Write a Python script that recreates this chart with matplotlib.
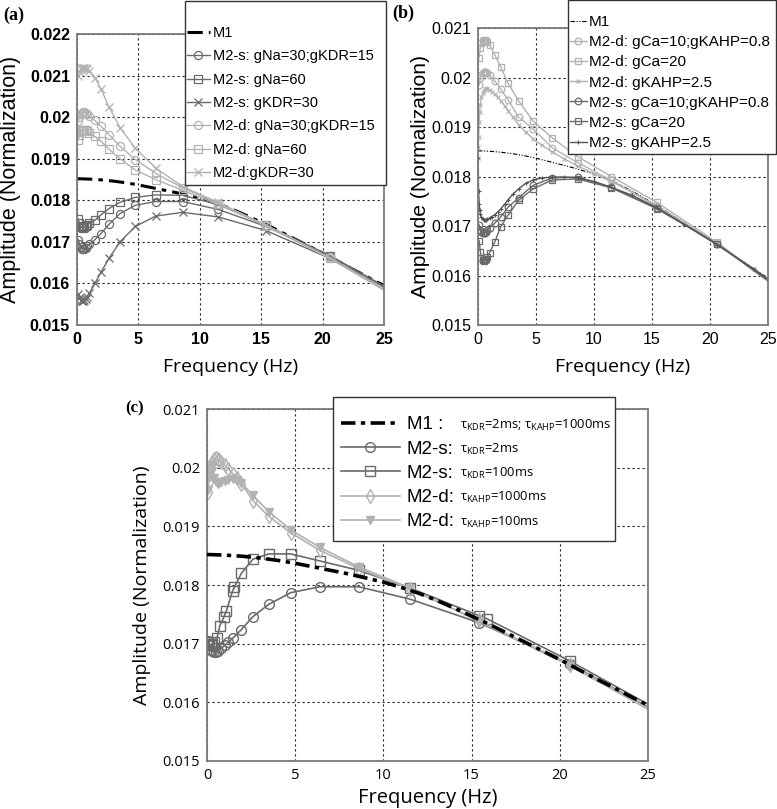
import matplotlib
matplotlib.use("Agg")
import matplotlib.pyplot as plt
from matplotlib.patches import Rectangle

W, H = 777, 809

# ---------------- shared reference model M1 ----------------
m1_freq = list(range(26))
m1_amp = [0.01852, 0.01851, 0.01849, 0.01846, 0.01842, 0.01837, 0.01831, 0.01825,
          0.01819, 0.01812, 0.01805, 0.01796, 0.01786, 0.01774, 0.01761, 0.01747,
          0.01733, 0.01718, 0.01703, 0.01688, 0.01673, 0.01657, 0.01641, 0.01626,
          0.01610, 0.01595]

# ---------------- panel (a) ----------------
a_freq = [0.1, 0.2, 0.3, 0.4, 0.5, 0.6, 0.7, 0.8, 1.0, 1.45, 1.95, 2.6, 3.5, 4.75,
          6.4, 8.6, 11.5, 15.4, 20.6, 27.5]
a_s_na30_kdr15 = [0.01705, 0.01695, 0.01688, 0.01684, 0.01683, 0.01684, 0.01686, 0.01689,
                  0.01694, 0.01705, 0.01720, 0.01742, 0.01768, 0.01788, 0.01797, 0.01797,
                  0.01778, 0.01737, 0.01665, 0.01550]
a_s_na60 = [0.01755, 0.01745, 0.01738, 0.01735, 0.01734, 0.01735, 0.01737, 0.01740,
            0.01745, 0.01752, 0.01765, 0.01780, 0.01795, 0.01807, 0.01813, 0.01812,
            0.01790, 0.01740, 0.01667, 0.01552]
a_s_kdr30 = [0.01575, 0.01565, 0.01560, 0.01558, 0.01558, 0.01560, 0.01563, 0.01567,
             0.01576, 0.01600, 0.01627, 0.01660, 0.01700, 0.01737, 0.01762, 0.01771,
             0.01760, 0.01727, 0.01660, 0.01545]
a_d_na30_kdr15 = [0.01990, 0.02000, 0.02007, 0.02011, 0.02012, 0.02012, 0.02010, 0.02008,
                  0.02003, 0.01992, 0.01978, 0.01958, 0.01930, 0.01898, 0.01865, 0.01830,
                  0.01792, 0.01740, 0.01662, 0.01545]
a_d_na60 = [0.01945, 0.01958, 0.01966, 0.01969, 0.01970, 0.01969, 0.01968, 0.01966,
            0.01962, 0.01954, 0.01942, 0.01923, 0.01900, 0.01873, 0.01850, 0.01824,
            0.01790, 0.01738, 0.01661, 0.01543]
a_d_kdr30 = [0.02100, 0.02110, 0.02115, 0.02118, 0.02119, 0.02119, 0.02118, 0.02116,
             0.02112, 0.02095, 0.02068, 0.02025, 0.01975, 0.01925, 0.01878, 0.01833,
             0.01795, 0.01740, 0.01660, 0.01540]
a_labels = ["M1", "M2-s: gNa=30;gKDR=15", "M2-s: gNa=60", "M2-s: gKDR=30",
            "M2-d: gNa=30;gKDR=15", "M2-d: gNa=60", "M2-d:gKDR=30"]

# ---------------- panel (b) ----------------
b_freq = [0.1, 0.2, 0.3, 0.4, 0.5, 0.6, 0.7, 0.8, 1.0, 1.45, 1.95, 2.6, 3.5, 4.75,
          6.4, 8.6, 11.5, 15.4, 20.6, 27.5]
b_d_ca10_kahp08 = [0.01985, 0.01998, 0.02006, 0.02010, 0.02012, 0.02012, 0.02011, 0.02009,
                   0.02005, 0.01993, 0.01977, 0.01955, 0.01920, 0.01896, 0.01858, 0.01828,
                   0.01792, 0.01740, 0.01664, 0.01545]
b_d_ca20 = [0.02040, 0.02060, 0.02070, 0.02074, 0.02075, 0.02075, 0.02074, 0.02072,
            0.02066, 0.02046, 0.02022, 0.01988, 0.01953, 0.01912, 0.01878, 0.01840,
            0.01800, 0.01748, 0.01667, 0.01548]
b_s_ca10_kahp08 = [0.01702, 0.01692, 0.01687, 0.01685, 0.01685, 0.01686, 0.01688, 0.01691,
                   0.01696, 0.01706, 0.01718, 0.01738, 0.01757, 0.01782, 0.01797, 0.01799,
                   0.01778, 0.01737, 0.01664, 0.01548]
b_s_ca20 = [0.01670, 0.01648, 0.01636, 0.01632, 0.01630, 0.01631, 0.01634, 0.01638,
            0.01646, 0.01668, 0.01698, 0.01722, 0.01752, 0.01775, 0.01793, 0.01795,
            0.01777, 0.01735, 0.01664, 0.01548]
b_freq_kahp = [0.01, 0.03, 0.05, 0.1, 0.15, 0.2, 0.3, 0.4, 0.5, 0.6, 0.7, 0.8, 1.0, 1.2,
               1.45, 1.7, 1.95, 2.3, 2.6, 3.0, 3.5, 4.1, 4.75, 5.5, 6.4, 7.4, 8.6, 10.0,
               11.5, 13.3, 15.4, 17.8, 20.6, 23.8, 27.5]
b_d_kahp25 = [0.01838, 0.01860, 0.01880, 0.01910, 0.01930, 0.01945, 0.01960, 0.01968,
              0.01973, 0.01976, 0.01978, 0.01977, 0.01975, 0.01971, 0.01966, 0.01960,
              0.01953, 0.01943, 0.01933, 0.01920, 0.01905, 0.01890, 0.01876, 0.01863,
              0.01850, 0.01836, 0.01821, 0.01806, 0.01790, 0.01768, 0.01741, 0.01706,
              0.01663, 0.01613, 0.01550]
b_s_kahp25 = [0.01837, 0.01800, 0.01770, 0.01745, 0.01732, 0.01725, 0.01718, 0.01715,
              0.01713, 0.01713, 0.01713, 0.01714, 0.01716, 0.01719, 0.01723, 0.01728,
              0.01734, 0.01744, 0.01753, 0.01764, 0.01775, 0.01786, 0.01793, 0.01797,
              0.01799, 0.01799, 0.01797, 0.01790, 0.01778, 0.01762, 0.01737, 0.01703,
              0.01662, 0.01613, 0.01550]
b_labels = ["M1", "M2-d: gCa=10;gKAHP=0.8", "M2-d: gCa=20", "M2-d: gKAHP=2.5",
            "M2-s: gCa=10;gKAHP=0.8", "M2-s: gCa=20", "M2-s: gKAHP=2.5"]

# ---------------- panel (c) ----------------
c_freq_circ = [0.05, 0.1, 0.2, 0.3, 0.4, 0.5, 0.6, 0.8, 1.0, 1.2, 1.45, 1.95, 2.6, 3.5,
               4.75, 6.4, 8.6, 11.5, 15.4, 20.6, 27.5]
c_s_kdr2 = [0.01705, 0.01698, 0.01690, 0.01687, 0.01686, 0.01686, 0.01688, 0.01692,
            0.01697, 0.01702, 0.01709, 0.01724, 0.01746, 0.01767, 0.01787, 0.01797,
            0.01797, 0.01776, 0.01736, 0.01665, 0.01550]
c_freq_sq = [0.05, 0.1, 0.2, 0.3, 0.4, 0.57, 0.72, 0.95, 1.1, 1.45, 1.55, 1.95, 2.6, 3.5,
             4.75, 6.4, 8.6, 11.5, 15.4, 15.9, 20.6, 27.5]
c_s_kdr100 = [0.01702, 0.01698, 0.01697, 0.01700, 0.01703, 0.01710, 0.01730, 0.01745,
              0.01756, 0.01790, 0.01796, 0.01820, 0.01844, 0.01853, 0.01853, 0.01841,
              0.01825, 0.01795, 0.01748, 0.01742, 0.01670, 0.01555]
c_freq_d = [0.05, 0.1, 0.15, 0.2, 0.3, 0.4, 0.5, 0.6, 0.7, 0.8, 1.0, 1.2, 1.45, 1.7, 1.95,
            2.6, 3.5, 4.75, 6.4, 8.6, 11.5, 15.4, 20.6, 27.5]
c_d_kahp1000 = [0.01958, 0.01975, 0.01990, 0.02000, 0.02010, 0.02014, 0.02016, 0.02015,
                0.02013, 0.02010, 0.02004, 0.01998, 0.01990, 0.01982, 0.01973, 0.01944,
                0.01917, 0.01889, 0.01859, 0.01828, 0.01793, 0.01740, 0.01664, 0.01548]
c_d_kahp100 = [0.01962, 0.01985, 0.02000, 0.02005, 0.01995, 0.01982, 0.01975, 0.01973,
               0.01974, 0.01975, 0.01977, 0.01979, 0.01980, 0.01979, 0.01974, 0.01953,
               0.01925, 0.01894, 0.01864, 0.01831, 0.01795, 0.01738, 0.01662, 0.01546]
c_labels_main = ["M1 :", "M2-s:", "M2-s:", "M2-d:", "M2-d:"]
c_labels_tau = [r"τ$_{\mathrm{KDR}}$=2ms; τ$_{\mathrm{KAHP}}$=1000ms",
                r"τ$_{\mathrm{KDR}}$=2ms",
                r"τ$_{\mathrm{KDR}}$=100ms",
                r"τ$_{\mathrm{KAHP}}$=1000ms",
                r"τ$_{\mathrm{KAHP}}$=100ms"]

x_ticks = [0, 5, 10, 15, 20, 25]
a_yticks = [0.015, 0.016, 0.017, 0.018, 0.019, 0.020, 0.021, 0.022]
a_yticklabels = ["0.015", "0.016", "0.017", "0.018", "0.019", "0.02", "0.021", "0.022"]
bc_yticks = [0.015, 0.016, 0.017, 0.018, 0.019, 0.020, 0.021]
bc_yticklabels = ["0.015", "0.016", "0.017", "0.018", "0.019", "0.02", "0.021"]

# ---------------- styling ----------------
plt.rcParams["mathtext.fontset"] = "custom"
plt.rcParams["mathtext.rm"] = "Open Sans"
plt.rcParams["mathtext.it"] = "Open Sans:italic"
plt.rcParams["mathtext.bf"] = "Open Sans:bold"

DARK = "#6a6a6a"
LIGHT = "#b2b2b2"
SPINE = "#7a7a7a"
SANS = ["Liberation Sans", "DejaVu Sans"]
OPEN = ["Open Sans", "DejaVu Sans"]

fig = plt.figure(figsize=(W / 100, H / 100), dpi=100)


def px_axes(left, top, right, bottom):
    return fig.add_axes([left / W, 1 - bottom / H, (right - left) / W, (bottom - top) / H])


def style_axes(ax, yticks, yticklabels, ylim, tick_font, tick_size, tick_weight):
    ax.set_xlim(0, 25)
    ax.set_ylim(*ylim)
    ax.set_xticks(x_ticks)
    ax.set_xticklabels([str(t) for t in x_ticks])
    ax.set_yticks(yticks)
    ax.set_yticklabels(yticklabels)
    for lab in ax.get_xticklabels() + ax.get_yticklabels():
        lab.set_fontfamily(tick_font)
        lab.set_fontsize(tick_size)
        lab.set_fontweight(tick_weight)
    ax.tick_params(length=0, pad=5)
    ax.grid(True, linestyle=(0, (2, 2.5)), color="#222222", linewidth=0.8)
    ax.set_axisbelow(True)
    for s in ax.spines.values():
        s.set_color(SPINE)
        s.set_linewidth(1.3)


# ================= panel (a) =================
axa = px_axes(77, 34, 384, 325)
mk_a = dict(markersize=5.8, markerfacecolor="none", linewidth=1.0, markeredgewidth=0.9)
axa.plot(m1_freq, m1_amp, color="black", linewidth=2.2, linestyle=(0, (5, 2, 1.5, 2)),
         label=a_labels[0])
axa.plot(a_freq, a_s_na30_kdr15, color=DARK, marker="o", label=a_labels[1], **mk_a)
axa.plot(a_freq, a_s_na60, color=DARK, marker="s", label=a_labels[2], **mk_a)
axa.plot(a_freq, a_s_kdr30, color=DARK, marker="x", label=a_labels[3], **mk_a)
axa.plot(a_freq, a_d_na30_kdr15, color=LIGHT, marker="o", label=a_labels[4], **mk_a)
axa.plot(a_freq, a_d_na60, color=LIGHT, marker="s", label=a_labels[5], **mk_a)
axa.plot(a_freq, a_d_kdr30, color=LIGHT, marker="x", label=a_labels[6], **mk_a)
style_axes(axa, a_yticks, a_yticklabels, (0.015, 0.022), SANS, 11.5, "bold")
axa.set_ylabel("Amplitude (Normalization)", fontfamily=SANS, fontsize=15.5, labelpad=6)
axa.set_xlabel("Frequency (Hz)", fontfamily=OPEN, fontsize=14, labelpad=8)

# ================= panel (b) =================
axb = px_axes(478, 28, 768, 325)
mk_b = dict(markersize=4.8, markerfacecolor="none", linewidth=1.0, markeredgewidth=0.9)
axb.plot(m1_freq, m1_amp, color="black", linewidth=0.8,
         linestyle=(0, (4, 1.5, 1, 1.5, 1, 1.5)), label=b_labels[0])
axb.plot(b_freq, b_d_ca10_kahp08, color=LIGHT, marker="o", label=b_labels[1], **mk_b)
axb.plot(b_freq, b_d_ca20, color=LIGHT, marker="s", label=b_labels[2], **mk_b)
axb.plot(b_freq_kahp, b_d_kahp25, color=LIGHT, marker="x", markersize=3, linewidth=1.0,
         markeredgewidth=0.8, label=b_labels[3])
axb.plot(b_freq, b_s_ca10_kahp08, color=DARK, marker="o", label=b_labels[4], **mk_b)
axb.plot(b_freq, b_s_ca20, color=DARK, marker="s", label=b_labels[5], **mk_b)
axb.plot(b_freq_kahp, b_s_kahp25, color="#555555", marker="+", markersize=3.5,
         linewidth=1.0, markeredgewidth=0.8, label=b_labels[6])
style_axes(axb, bc_yticks, bc_yticklabels, (0.015, 0.021), SANS, 11.5, "normal")
axb.set_ylabel("Amplitude (Normalization)", fontfamily=SANS, fontsize=15.2, labelpad=1)
axb.set_xlabel("Frequency (Hz)", fontfamily=OPEN, fontsize=14, labelpad=8)

# ================= panel (c) =================
axc = px_axes(207, 409, 648, 761)
mk_c = dict(markersize=7, markerfacecolor="none", linewidth=1.2, markeredgewidth=1.0)
axc.plot(m1_freq, m1_amp, color="black", linewidth=2.6, linestyle=(0, (4, 1.5, 1.2, 1.5)),
         label=c_labels_main[0], zorder=3)
axc.plot(c_freq_circ, c_s_kdr2, color=DARK, marker="o", label=c_labels_main[1], **mk_c)
axc.plot(c_freq_sq, c_s_kdr100, color=DARK, marker="s", label=c_labels_main[2], **mk_c)
axc.plot(c_freq_d, c_d_kahp1000, color=LIGHT, marker="d", label=c_labels_main[3], **mk_c)
axc.plot(c_freq_d, c_d_kahp100, color=LIGHT, marker="v", label=c_labels_main[4],
         markersize=6, markerfacecolor=LIGHT, linewidth=1.2, markeredgewidth=1.0)
style_axes(axc, bc_yticks, bc_yticklabels, (0.015, 0.021), OPEN, 10.5, "normal")
axc.set_ylabel("Amplitude (Normalization)", fontfamily=OPEN, fontsize=14, labelpad=8)
axc.set_xlabel("Frequency (Hz)", fontfamily=OPEN, fontsize=14.5, labelpad=4)

# panel letters
fig.text(3 / W, 1 - 15 / H, "(a)", fontfamily=["Liberation Serif", "DejaVu Serif"],
         fontweight="bold", fontsize=13, va="center", ha="left")
fig.text(392 / W, 1 - 13 / H, "(b)", fontfamily=["Liberation Serif", "DejaVu Serif"],
         fontweight="bold", fontsize=13, va="center", ha="left")
fig.text(125 / W, 1 - 408 / H, "(c)", fontfamily=["Liberation Serif", "DejaVu Serif"],
         fontweight="bold", fontsize=12, va="center", ha="left")

# ---------------- legends: MATLAB-like boxes ----------------
fig.canvas.draw()
renderer = fig.canvas.get_renderer()


def fit_legend(ax, prop, text_x0, row_first, row_last, ls0, **kw):
    """Legend whose label texts start at text_x0 and whose rows are centred on
    row_first ... row_last (figure pixels, measured from the top)."""
    n = len(ax.get_legend_handles_labels()[1])
    fs_px = prop["size"] * 100 / 72
    want = (row_last - row_first) / (n - 1)
    ls = ls0
    anchor = (text_x0 - 60, H - row_first)
    for it in range(3):
        a = tuple(ax.transAxes.inverted().transform(anchor))
        leg = ax.legend(loc="upper left", bbox_to_anchor=a, borderaxespad=0, frameon=False,
                        prop=prop, labelspacing=ls, borderpad=0, **kw)
        leg.set_zorder(6)
        fig.canvas.draw()
        bbs = [t.get_window_extent(renderer) for t in leg.get_texts()]
        cys = [H - 0.5 * (b.y0 + b.y1) for b in bbs]
        spacing = (cys[-1] - cys[0]) / (n - 1)
        ls = ls + (want - spacing) / fs_px
        anchor = (anchor[0] + (text_x0 - bbs[0].x0), anchor[1] + (cys[0] - row_first))
    a = tuple(ax.transAxes.inverted().transform(anchor))
    leg = ax.legend(loc="upper left", bbox_to_anchor=a, borderaxespad=0, frameon=False,
                    prop=prop, labelspacing=ls, borderpad=0, **kw)
    leg.set_zorder(6)
    return leg


def frame_box(ax, left, top, right, bottom):
    inv = ax.transAxes.inverted()
    p0 = inv.transform((left, H - bottom))
    p1 = inv.transform((right, H - top))
    ax.add_patch(Rectangle((p0[0], p0[1]), p1[0] - p0[0], p1[1] - p0[1],
                           transform=ax.transAxes, facecolor="white", edgecolor="#333333",
                           linewidth=1.0, zorder=5, clip_on=False))


leg_a = fit_legend(axa, {"family": SANS, "size": 10.5}, 213, 33, 173, 0.48,
                   handlelength=1.6, handletextpad=0.2)
frame_box(axa, 185, 1, 386, 185)

leg_b = fit_legend(axb, {"family": SANS, "size": 11}, 589, 22, 143, 0.3,
                   handlelength=1.1, handletextpad=0.15)
frame_box(axb, 568, 0.5, 776, 154)

leg_c = fit_legend(axc, {"family": SANS, "size": 13.5}, 407, 425, 522, 0.3,
                   handlelength=3.1, handletextpad=0.4)
fig.canvas.draw()
inv_c = axc.transAxes.inverted()
bbs = [t.get_window_extent(renderer) for t in leg_c.get_texts()]
x_tau = max(bb.x1 for bb in bbs) + 5
tau_right = x_tau
for bb, s in zip(bbs, c_labels_tau):
    pos = inv_c.transform((x_tau, 0.5 * (bb.y0 + bb.y1)))
    t = axc.text(pos[0], pos[1], s, transform=axc.transAxes, fontfamily=OPEN, fontsize=9.4,
                 va="center", ha="left", zorder=7, clip_on=False)
    tau_right = max(tau_right, t.get_window_extent(renderer).x1)
frame_box(axc, 333, 397, max(614, tau_right + 4), 541)

fig.savefig("out.png", dpi=100)
